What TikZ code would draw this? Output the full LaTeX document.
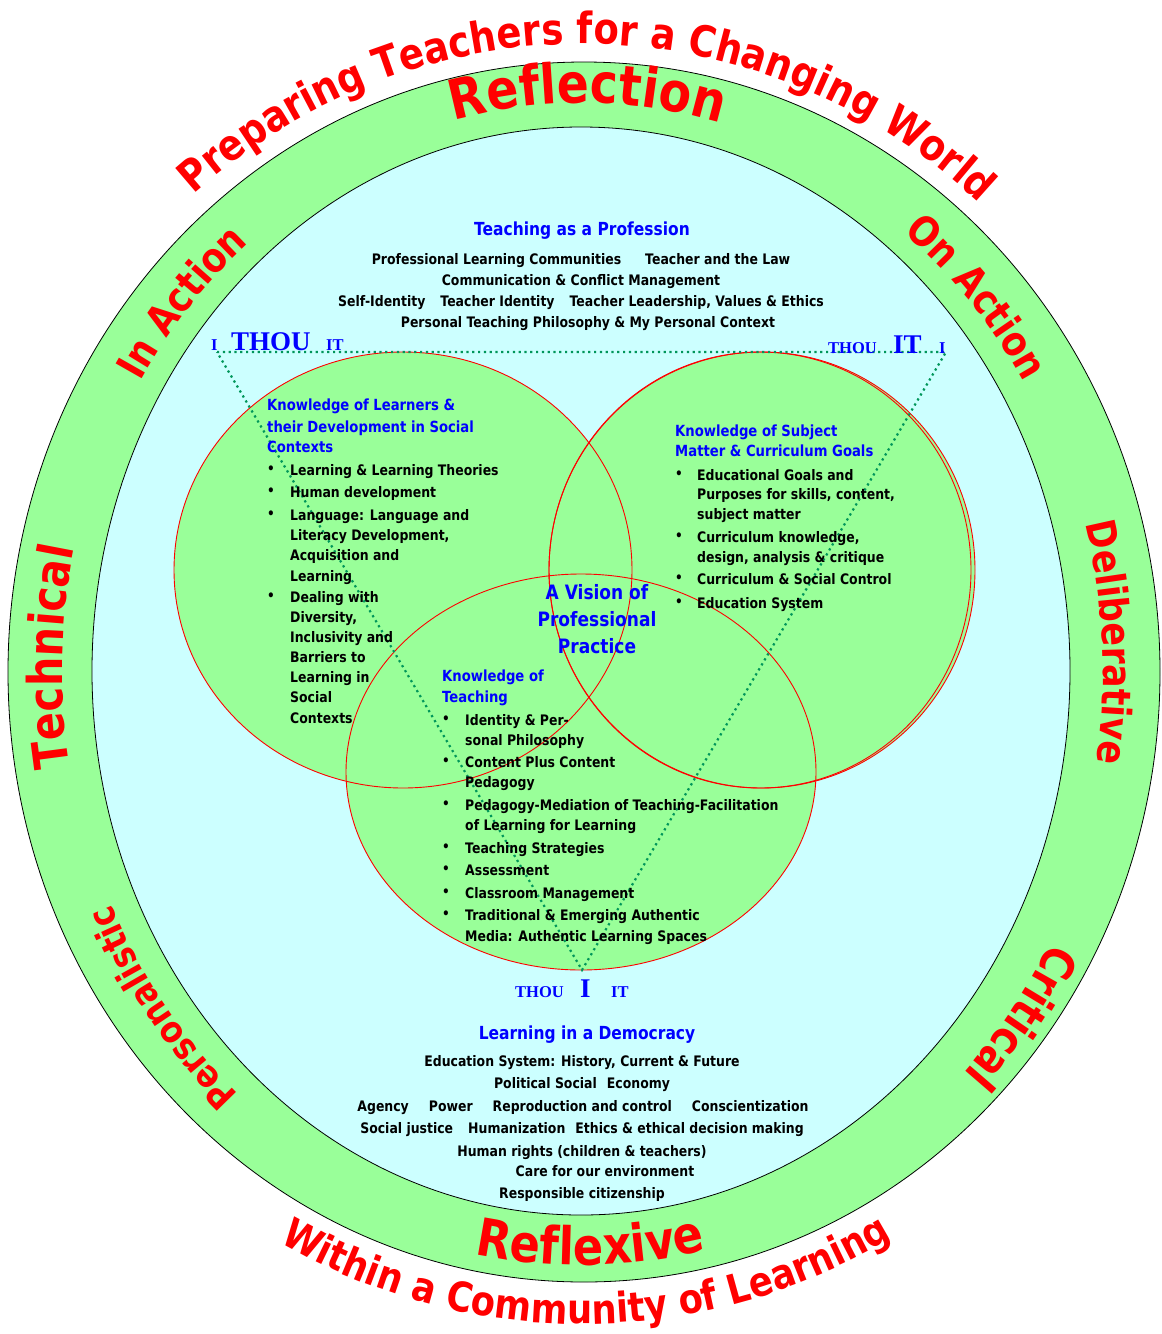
\documentclass[tikz,border=0pt]{standalone}
\usepackage{fontspec}
\setmainfont{DejaVu Sans}[FakeStretch=0.86]
\newfontfamily\serifb{Liberation Serif}
\usetikzlibrary{decorations.text}
\definecolor{ringgreen}{HTML}{99FF99}
\definecolor{innercyan}{HTML}{CCFFFF}
\definecolor{dotgreen}{RGB}{0,150,90}
\definecolor{txtblue}{RGB}{0,0,255}
\begin{document}
\begin{tikzpicture}[x=1pt,y=1pt,
  body/.style={font=\fontsize{14.5}{17}\selectfont\bfseries, inner sep=0pt, text=black},
  head/.style={font=\fontsize{15.35}{18}\selectfont\bfseries, inner sep=0pt, text=txtblue},
  bigtitle/.style={font=\fontsize{18}{21}\selectfont\bfseries, inner sep=0pt, text=txtblue},
  bul/.style={font=\fontsize{14}{16}\selectfont\bfseries, inner sep=0pt},
  vision/.style={font=\fontsize{19.8}{23}\selectfont\bfseries, inner sep=0pt, text=txtblue},
  rel/.style={font=\serifb\bfseries\fontsize{16.5}{18}\selectfont, text=txtblue, inner sep=0pt},
  relbig/.style={font=\serifb\bfseries\fontsize{27}{30}\selectfont, text=txtblue, inner sep=0pt},
  ringline/.style={draw=black, line width=0.8pt},
  redline/.style={draw=red, line width=0.9pt},
  dots/.style={draw=dotgreen, line width=2.2pt, dash pattern=on 2.2pt off 3.6pt},
]
\fill[white] (0,0) rectangle (1162,-1334);
\useasboundingbox (0,0) rectangle (1162,-1334);

% rings
\fill[ringgreen] (584,-672) ellipse[x radius=576, y radius=610];
\draw[ringline] (584,-672) ellipse[x radius=576, y radius=610];
\fill[innercyan] (581,-671) ellipse[x radius=489, y radius=544];
\draw[ringline] (581,-671) ellipse[x radius=489, y radius=544];

% three knowledge circles
\fill[ringgreen] (403,-570) ellipse[x radius=229, y radius=218];
\fill[ringgreen] (762,-570) ellipse[x radius=213, y radius=218];
\fill[ringgreen] (581,-772) ellipse[x radius=235, y radius=198];
\draw[redline] (403,-570) ellipse[x radius=229, y radius=218];
\draw[redline] (762,-570) ellipse[x radius=213, y radius=218];
\draw[redline] (760,-570) ellipse[x radius=211, y radius=218];
\draw[redline] (581,-772) ellipse[x radius=235, y radius=198];

% dotted triangle
\coordinate (tl) at (217,-352);
\coordinate (tr) at (946,-352);
\coordinate (ap) at (582,-970);
\draw[dots] (tl) -- (tr) -- (ap) -- cycle;

% curved red labels
\begin{scope}[shift={(582,-672)}]
\path[decorate, decoration={text along path, text align=center,
  text={|\fontsize{43}{43}\selectfont\bfseries\color{red}|Preparing Teachers for a Changing World}}]
  (144.4:598 and 628) arc[start angle=144.4, end angle=34.4, x radius=598, y radius=628];
\path[decorate, decoration={text along path, text align=center,
  text={|\fontsize{41}{41}\selectfont\bfseries\color{red}|Within a Community of Learning}}]
  (228.4:624 and 652) arc[start angle=228.4, end angle=312.4, x radius=624, y radius=652];
\path[decorate, decoration={text along path, text align=center,
  text={|\fontsize{55}{55}\selectfont\bfseries\color{red}|Reflection}}]
  (114.4:523 and 569) arc[start angle=114.4, end angle=64.4, x radius=523, y radius=569];
\path[decorate, decoration={text along path, text align=center,
  text={|\fontsize{52}{52}\selectfont\bfseries\color{red}|Reflexive}}]
  (245.9:558 and 593) arc[start angle=245.9, end angle=295.9, x radius=558, y radius=593];
\path[decorate, decoration={text along path, text align=center,
  text={|\fontsize{41}{41}\selectfont\bfseries\color{red}|In Action}}]
  (164.2:516 and 562) arc[start angle=164.2, end angle=114.2, x radius=516, y radius=562];
\path[decorate, decoration={text along path, text align=center,
  text={|\fontsize{41}{41}\selectfont\bfseries\color{red}|On Action}}]
  (66.6:516 and 562) arc[start angle=66.6, end angle=16.6, x radius=516, y radius=562];
\path[decorate, decoration={text along path, text align=center,
  text={|\fontsize{48}{48}\selectfont\bfseries\color{red}|Technical}}]
  (203.5:520 and 569) arc[start angle=203.5, end angle=153.5, x radius=520, y radius=569];
\path[decorate, decoration={text along path, text align=center,
  text={|\fontsize{40.5}{40.5}\selectfont\bfseries\color{red}|Deliberative}}]
  (28:521 and 569) arc[start angle=28, end angle=-22, x radius=521, y radius=569];
\path[decorate, decoration={text along path, text align=center,
  text={|\fontsize{46}{46}\selectfont\bfseries\color{red}|Critical}}]
  (-11.3:530 and 578) arc[start angle=-11.3, end angle=-61.3, x radius=530, y radius=578];
\path[decorate, decoration={text along path, text align=center,
  text={|\fontsize{37}{37}\selectfont\bfseries\color{red}|Personalistic}}]
  (241.6:516 and 566) arc[start angle=241.6, end angle=191.6, x radius=516, y radius=566];
\end{scope}

% I THOU IT labels
\node[rel, anchor=base west] (Ia) at (211,-350) {I};
\node[relbig, anchor=base west] (THOUa) at (231,-350) {THOU};
\node[rel, anchor=base west] (ITa) at (326,-350) {IT};
\node[rel, anchor=base west] (THOUb) at (828,-353) {THOU};
\node[relbig, anchor=base west] (ITb) at (893,-353) {IT};
\node[rel, anchor=base west] (Ib) at (939,-353) {I};
\node[rel, anchor=base west] (THOUc) at (515,-997) {THOU};
\node[relbig, anchor=base west] (Ic) at (580,-997) {I};
\node[rel, anchor=base west] (ITc) at (611,-997) {IT};

% Teaching as a Profession
\node[bigtitle, anchor=base] (tp) at (582,-235) {Teaching as a Profession};
\node[body, anchor=base] (tp1) at (581,-264) {Professional Learning Communities\hspace{24pt}Teacher and the Law};
\node[body, anchor=base] (tp2) at (581,-285) {Communication \& Conflict Management};
\node[body, anchor=base] (tp3) at (581,-306) {Self-Identity\hspace{15pt}Teacher Identity\hspace{15pt}Teacher Leadership, Values \& Ethics};
\node[body, anchor=base] (tp4) at (588,-327) {Personal Teaching Philosophy \& My Personal Context};

% Knowledge of Learners
\node[head, anchor=base west] (kl1) at (267,-410) {Knowledge of Learners \&};
\node[head, anchor=base west] (kl2) at (267,-432) {their Development in Social};
\node[head, anchor=base west] (kl3) at (267,-452) {Contexts};
\foreach \y [count=\i] in {470,492,515,597}
  \node[bul] (klb\i) at (271,-\y) {\textbullet};
\foreach \y/\t [count=\i] in {475/{Learning \& Learning Theories},497/{Human development},
  520/{Language: Language and},540/{Literacy Development,},560/{Acquisition and},581/{Learning},
  602/{Dealing with},622/{Diversity,},642/{Inclusivity and},662/{Barriers to},682/{Learning in},
  702/{Social},723/{Contexts}}
  \node[body, anchor=base west] (kll\i) at (290,-\y) {\t};

% Knowledge of Subject Matter
\node[head, anchor=base west] (ks1) at (675,-436) {Knowledge of Subject};
\node[head, anchor=base west] (ks2) at (675,-456) {Matter \& Curriculum Goals};
\foreach \y [count=\i] in {475,537,579,603}
  \node[bul] (ksb\i) at (679,-\y) {\textbullet};
\foreach \y/\t [count=\i] in {480/{Educational Goals and},499/{Purposes for skills, content,},
  519/{subject matter},542/{Curriculum knowledge,},562/{design, analysis \& critique},
  584/{Curriculum \& Social Control},608/{Education System}}
  \node[body, anchor=base west] (ksl\i) at (697,-\y) {\t};

% Vision
\node[vision, anchor=base] (v1) at (597,-599) {A Vision of};
\node[vision, anchor=base] (v2) at (597,-626) {Professional};
\node[vision, anchor=base] (v3) at (597,-653) {Practice};

% Knowledge of Teaching
\node[head, anchor=base west] (kt1) at (442,-681) {Knowledge of};
\node[head, anchor=base west] (kt2) at (442,-702) {Teaching};
\foreach \y [count=\i] in {720,762,805,848,870,893,915}
  \node[bul] (ktb\i) at (446,-\y) {\textbullet};
\foreach \y/\t [count=\i] in {725/{Identity \& Per-},745/{sonal Philosophy},767/{Content Plus Content},
  787/{Pedagogy},810/{Pedagogy-Mediation of Teaching-Facilitation},830/{of Learning for Learning},
  853/{Teaching Strategies},875/{Assessment},898/{Classroom Management},
  920/{Traditional \& Emerging Authentic},941/{Media: Authentic Learning Spaces}}
  \node[body, anchor=base west] (ktl\i) at (465,-\y) {\t};

% Learning in a Democracy
\node[bigtitle, anchor=base] (ld) at (587,-1039) {Learning in a Democracy};
\node[body, anchor=base] (ld1) at (582,-1066) {Education System: History, Current \& Future};
\node[body, anchor=base] (ld2) at (582,-1088) {Political Social\hspace{10pt}Economy};
\node[body, anchor=base] (ld3) at (583,-1111) {Agency\hspace{20pt}Power\hspace{20pt}Reproduction and control\hspace{20pt}Conscientization};
\node[body, anchor=base] (ld4) at (582,-1133) {Social justice\hspace{15pt}Humanization\hspace{10pt}Ethics \& ethical decision making};
\node[body, anchor=base] (ld5) at (582,-1156) {Human rights (children \& teachers)};
\node[body, anchor=base] (ld6) at (605,-1176) {Care for our environment};
\node[body, anchor=base] (ld7) at (582,-1198) {Responsible citizenship};
\end{tikzpicture}
\end{document}
